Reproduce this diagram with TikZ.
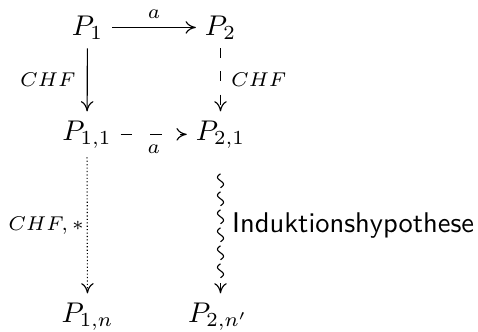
\documentclass[tikz,border=0pt]{standalone}
\usetikzlibrary{arrows.meta,calc}
\begin{document}
\begin{tikzpicture}[x=0.3509pt,y=-0.3509pt,
  obj/.style={anchor=base, inner sep=3pt},
  arr/.style={line width=0.4pt, -{Computer Modern Rightarrow[length=3.6pt,width=4.4pt]}},
  lbl/.style={inner sep=1pt, font=\scriptsize},
  dashH/.style={dash pattern=on 4pt off 6.4pt},
  dashV/.style={dash pattern=on 3.5pt off 4.6pt},
  dotsline/.style={dash pattern=on 0.4pt off 0.8pt},
]
\useasboundingbox (0,0) rectangle (478,331);
\node[obj] (P1)  at (87.5,35)  {$P_1$};
\node[obj] (P2)  at (220.5,35) {$P_2$};
\node[obj] (P11) at (87,140)   {$P_{1,1}$};
\node[obj] (P21) at (220.5,140) {$P_{2,1}$};
\node[obj] (P1n) at (87.5,322) {$P_{1,n}$};
\node[obj] (P2n) at (218,322)  {$P_{2,n'}$};

\draw[arr] (P1) -- node[lbl, above=2pt] {$a$} (P2);
\draw[arr] (P1) -- node[lbl, left=2.9pt] {$CHF$} (P11);
\draw[arr, dashV] (P2) -- node[lbl, right=2.5pt] {$CHF$} (P21);
\draw[arr, dashH] (P11) -- node[lbl, below=2.4pt] {$a$} (P21);
\draw[arr, dotsline] (P11) -- node[lbl, left=0pt] {$CHF,*$} (P1n);

\foreach \k in {0,...,5}
  \draw[line width=0.4pt, shift={($(P21.south)+(0,16.5+18*\k)$)}]
    plot[domain=0:360, samples=25, smooth] ({-3*sin(\x)}, {14*\x/360});
\draw[arr] ($(P21.south)+(0,126)$) -- (P21.south |- P2n.north);
\path (P21.south) -- node[inner sep=1pt, right=2.9pt] {\sffamily Induktionshypothese} (P21.south |- P2n.north);
\end{tikzpicture}
\end{document}
